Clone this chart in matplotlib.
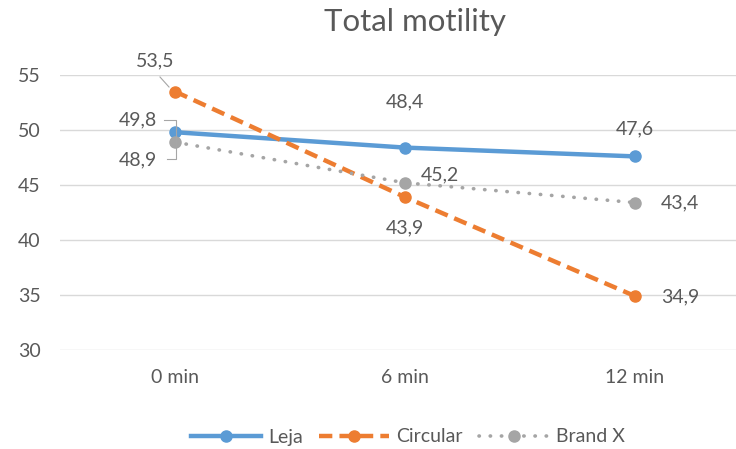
import matplotlib
matplotlib.use("Agg")
import matplotlib.pyplot as plt

plt.rcParams['font.family'] = ['Lato', 'DejaVu Sans']

categories = ['0 min', '6 min', '12 min']
leja = [49.8, 48.4, 47.6]
circular = [53.5, 43.9, 34.9]
brand_x = [48.9, 45.2, 43.4]

grey = '#595959'
fs = 14
fig = plt.figure(figsize=(7.36, 4.49), dpi=100)
ax = fig.add_axes([60 / 736, 1 - 350 / 449, 1 - 60 / 736, 275 / 449])

x = range(len(categories))
ax.plot(x, leja, color='#5B9BD5', lw=3.2, marker='o', ms=8, label='Leja', zorder=3)
ax.plot(x, circular, color='#ED7D31', lw=3.2, ls=(0, (3, 1.6)), marker='o', ms=8,
        label='Circular', zorder=3)
ax.plot(x, brand_x, color='#A5A5A5', lw=2.6, ls=(0, (0.1, 3.0)), dash_capstyle='round',
        marker='o', ms=8, label='Brand X', zorder=3)

ax.set_xlim(-0.5, (736 - 175) / 230)
ax.set_ylim(30, 55)
ax.set_yticks([30, 35, 40, 45, 50, 55])
ax.set_xticks(list(x))
ax.set_xticklabels(categories)
ax.yaxis.grid(True, color='#D9D9D9', lw=1)
ax.set_axisbelow(True)
for s in ax.spines.values():
    s.set_visible(False)
ax.tick_params(length=0, labelsize=fs, colors=grey, pad=14)
ax.tick_params(axis='x', pad=14)

def lab(xi, v, dx, dy):
    ax.annotate(f'{v:.1f}'.replace('.', ','), (xi, v), xytext=(dx, dy),
                textcoords='offset pixels', ha='center', va='center',
                fontsize=fs, color=grey)

lab(0, leja[0], -37, 12)
lab(1, leja[1], 0, 46)
lab(2, leja[2], 0, 28)
lab(0, circular[0], -20, 31)
lab(1, circular[1], 0, -31)
lab(2, circular[2], 45, -1)
lab(0, brand_x[0], -37, -18)
lab(1, brand_x[1], 35, 8)
lab(2, brand_x[2], 45, 0)

# leader lines (pixel coords)
def pix(px, py):
    return (px / 736, 1 - py / 449)

for pts in [[(164, 120), (176, 120), (176, 159), (167, 159)], [(160, 77), (169, 87)]]:
    xs = [pix(*p)[0] for p in pts]
    ys = [pix(*p)[1] for p in pts]
    fig.add_artist(plt.Line2D(xs, ys, color='#A6A6A6', lw=0.8, transform=fig.transFigure))

fig.text(415 / 736, 1 - 22 / 449, 'Total motility', ha='center', va='center',
         fontsize=22.5, color=grey)

fig.legend(loc='center', bbox_to_anchor=(408 / 736, 1 - 437 / 449), ncol=3, frameon=False,
           fontsize=fs, labelcolor=grey, handlelength=3.6, columnspacing=0.8,
           handletextpad=0.4)

fig.savefig('out.png', dpi=100)
